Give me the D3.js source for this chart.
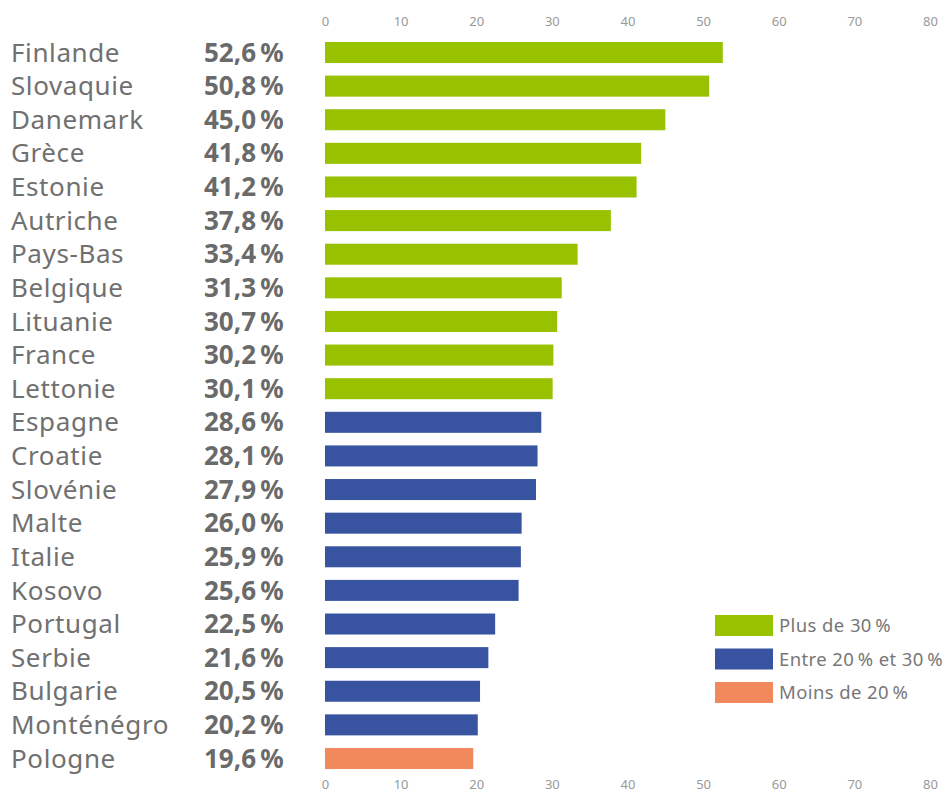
<!DOCTYPE html>
<html><head><meta charset="utf-8">
<script src="https://cdn.jsdelivr.net/npm/d3@7"></script>
<style>body{margin:0;background:#fff}svg{display:block}</style>
</head><body>
<svg id="c" width="943" height="795"></svg>
<script>
const countries = ["Finlande","Slovaquie","Danemark","Grèce","Estonie","Autriche","Pays-Bas","Belgique","Lituanie","France","Lettonie","Espagne","Croatie","Slovénie","Malte","Italie","Kosovo","Portugal","Serbie","Bulgarie","Monténégro","Pologne"];
const values = [52.6,50.8,45.0,41.8,41.2,37.8,33.4,31.3,30.7,30.2,30.1,28.6,28.1,27.9,26.0,25.9,25.6,22.5,21.6,20.5,20.2,19.6];
const ticks = [0,10,20,30,40,50,60,70,80];
const legendLabels = ["Plus de 30\u202F%","Entre 20\u202F% et 30\u202F%","Moins de 20\u202F%"];
const legendColors = ["#98c100","#3854a0","#f2895c"];

const svg = d3.select("#c");
const font = "'Noto Sans', 'Open Sans', sans-serif";
const x = d3.scaleLinear().domain([0,80]).range([325,930]);
const y = d3.scaleBand().domain(countries).range([35.7,775.3]).paddingInner(0.375).paddingOuter(0.1875);
const cat = v => v > 30 ? 0 : (v >= 20 ? 1 : 2);
const fmt = v => d3.format(".1f")(v).replace(".", ",") + "\u202F%";

const data = countries.map((c,i)=>({c, v: values[i]}));

// axes (labels only)
[20, 787].forEach(yy => {
  const ax = yy < 100 ? d3.axisTop(x) : d3.axisBottom(x);
  const g = svg.append("g").attr("transform", `translate(0,${yy < 100 ? 26 : 780})`)
    .call(ax.tickValues(ticks).tickSize(0).tickPadding(0).tickFormat(d3.format("d")));
  g.select(".domain").remove();
  g.selectAll("text").attr("fill","#999").style("font-family", font).style("font-size","13px")
    .attr("dy", yy < 100 ? "0" : "0.71em");
});

svg.append("g").selectAll("rect").data(data).join("rect")
  .attr("x", x(0)).attr("y", d => y(d.c))
  .attr("width", d => x(d.v) - x(0)).attr("height", y.bandwidth())
  .attr("fill", d => legendColors[cat(d.v)]);

svg.append("g").selectAll("text").data(data).join("text")
  .attr("x", 11).attr("y", d => y(d.c) + y.bandwidth()/2).attr("dy","0.35em")
  .attr("fill","#707070").style("font-family", font).style("font-size","26px").style("font-weight","400")
  .style("letter-spacing","0.6px")
  .text(d => d.c);

svg.append("g").selectAll("text").data(data).join("text")
  .attr("x", 204).attr("y", d => y(d.c) + y.bandwidth()/2).attr("dy","0.35em")
  .attr("fill","#6a6a6a").style("font-family", font).style("font-size","26px").style("font-weight","700")
  .text(d => fmt(d.v));

const lg = svg.append("g").selectAll("g").data(legendLabels).join("g")
  .attr("transform", (d,i) => `translate(715,${615 + i*33.5})`);
lg.append("rect").attr("width",58).attr("height",21).attr("fill",(d,i)=>legendColors[i]);
lg.append("text").attr("x",64).attr("y",10.5).attr("dy","0.36em")
  .attr("fill","#777").style("font-family", font).style("font-size","18.5px").style("letter-spacing","0.4px").text(d=>d);
</script>
</body></html>
